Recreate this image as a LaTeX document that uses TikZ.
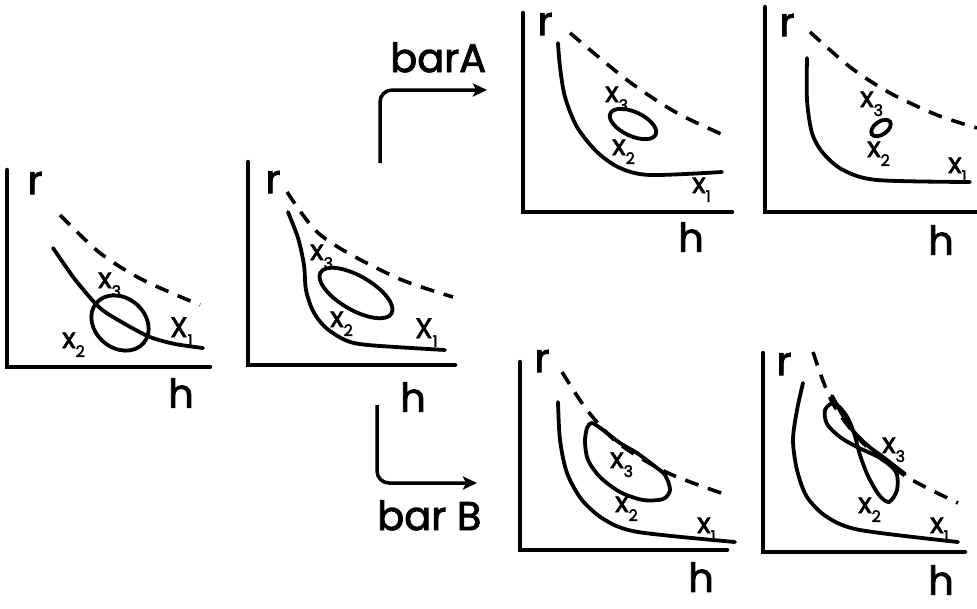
\documentclass[tikz,border=0pt]{standalone}
\usepackage{fontspec}
\setmainfont{Poppins}
\newfontfamily\hand{Poppins}[FakeBold=2.2]
\usetikzlibrary{arrows.meta}
\newcommand\xsub[1]{\raisebox{-9pt}{\fontsize{16}{16}\selectfont #1}}
\begin{document}
\begin{tikzpicture}[x=1pt,y=-1pt,
  axis/.style={line width=4.5pt, line cap=round},
  curve/.style={line width=3.8pt, line cap=round},
  dcurve/.style={line width=3.6pt, dash pattern=on 14pt off 10pt},
  loopc/.style={line width=3.8pt},
  big/.style={inner sep=0pt, font=\hand\fontsize{40}{40}\selectfont},
  lab/.style={inner sep=0pt, anchor=base west, font=\hand\fontsize{28}{28}\selectfont},
  barlab/.style={inner sep=0pt, anchor=base west, font=\hand\fontsize{40}{40}\selectfont},
  flow/.style={line width=3.5pt, rounded corners=12pt, -{Stealth[length=14pt,width=13pt,inset=3pt]}}
]
\useasboundingbox (0,0) rectangle (977,608);

% ---------- panel 1
\draw[axis] (7,170) |- (210,367);
\node[big] (r1) at (35,183) {r};
\node[big] (h1) at (181,393) {h};
\draw[dcurve] plot[smooth] coordinates {(60,215) (100,253) (143,280) (200,305)};
\draw[curve] plot[smooth] coordinates {(53,248) (64,264) (77,282) (100,308) (125,324) (150,337) (175,344) (203,348)};
\draw[loopc, rotate around={-40:(120,323)}] (120,323) ellipse [x radius=31pt, y radius=25pt];
\node[lab] (p1x3) at (98,288) {x\xsub{3}};
\node[lab] (p1x2) at (62,348) {x\xsub{2}};
\node[lab] (p1x1) at (170,337) {X\xsub{1}};

% ---------- panel 2
\draw[axis] (248,162) |- (455,365);
\node[big] (r2) at (273,182) {r};
\node[big] (h2) at (413,397) {h};
\draw[dcurve] plot[smooth] coordinates {(287,192) (315,230) (348,253) (402,280) (453,297)};
\draw[curve] plot[smooth] coordinates {(288,212) (298,238) (304,265) (306,290) (313,311) (325,327) (345,340) (368,345) (445,350)};
\draw[loopc, rotate around={-30:(356,293)}] (356,293) ellipse [x radius=41pt, y radius=17pt];
\node[lab] (p2x3) at (310,260) {x\xsub{3}};
\node[lab] (p2x2) at (330,327) {x\xsub{2}};
\node[lab] (p2x1) at (415,338) {X\xsub{1}};

% ---------- panel 3
\draw[axis] (523,13) |- (732,212);
\node[big] (r3) at (545,24) {r};
\node[big] (h3) at (691,237) {h};
\draw[dcurve] plot[smooth] coordinates {(570,33) (627,80) (677,113) (728,137)};
\draw[curve] plot[smooth] coordinates {(558,43) (560,67) (565,97) (577,127) (597,152) (620,168) (650,175) (722,172)};
\draw[loopc, rotate around={-25:(633,124)}] (633,124) ellipse [x radius=25pt, y radius=12pt];
\node[lab] (p3x3) at (605,102) {x\xsub{3}};
\node[lab] (p3x2) at (612,155) {x\xsub{2}};
\node[lab] (p3x1) at (692,193) {x\xsub{1}};

% ---------- panel 4
\draw[axis] (765,7) |- (977,212);
\node[big] (r4) at (787,25) {r};
\node[big] (h4) at (941,240) {h};
\draw[dcurve] plot[smooth] coordinates {(810,32) (850,67) (890,93) (937,115) (977,128)};
\draw[curve] plot[smooth] coordinates {(807,58) (807,100) (812,133) (823,153) (843,170) (877,180) (970,182)};
\draw[loopc, rotate around={35:(881,128)}] (881,128) ellipse [x radius=11pt, y radius=6.5pt];
\node[lab] (p4x3) at (860,107) {x\xsub{3}};
\node[lab] (p4x2) at (867,157) {x\xsub{2}};
\node[lab] (p4x1) at (948,173) {x\xsub{1}};

% ---------- panel 5
\draw[axis] (520,362) |- (727,550);
\node[big] (r5) at (542,361) {r};
\node[big] (h5) at (701,577) {h};
\draw[dcurve] plot[smooth] coordinates {(562,372) (587,410) (618,443) (668,473) (727,495)};
\draw[curve] plot[smooth] coordinates {(558,402) (560,440) (567,473) (582,500) (605,520) (638,532) (735,542)};
\draw[loopc] plot[smooth cycle] coordinates {(592,423) (603,430) (620,443) (637,453) (653,465) (665,475) (670,490) (663,499) (643,500) (620,492) (600,477) (588,460) (585,442) (587,428)};
\node[lab] (p5x3) at (610,468) {x\xsub{3}};
\node[lab] (p5x2) at (615,512) {x\xsub{2}};
\node[lab] (p5x1) at (697,533) {x\xsub{1}};

% ---------- panel 6
\draw[axis] (763,353) |- (965,552);
\node[big] (r6) at (784,364) {r};
\node[big] (h6) at (941,580) {h};
\draw[dcurve] plot[smooth] coordinates {(813,352) (832,402) (863,443) (907,477) (958,503)};
\draw[curve] plot[smooth] coordinates {(832,396) (850,427) (867,445) (883,457) (905,474)};
\draw[curve] plot[smooth] coordinates {(803,383) (797,410) (793,440) (797,470) (807,497) (827,517) (860,530) (958,542)};
\draw[loopc] plot[smooth cycle] coordinates {(857,447) (840,437) (827,424) (825,410) (834,403) (846,415) (854,433) (860,455) (868,476) (879,495) (889,502) (897,490) (896,472) (880,458)};
\node[lab] (p6x3) at (882,453) {x\xsub{3}};
\node[lab] (p6x2) at (858,513) {x\xsub{2}};
\node[lab] (p6x1) at (930,533) {x\xsub{1}};

% ---------- arrows
\coordinate (aS) at (380,163);
\coordinate (aE) at (487,90);
\draw[flow] (aS) |- (aE);
\node[barlab] (ta) at (390,72) {barA};
\coordinate (bS) at (377,405);
\coordinate (bE) at (477,483);
\draw[flow] (bS) |- (bE);
\node[barlab] (tb) at (377,530) {bar B};
\end{tikzpicture}
\end{document}
